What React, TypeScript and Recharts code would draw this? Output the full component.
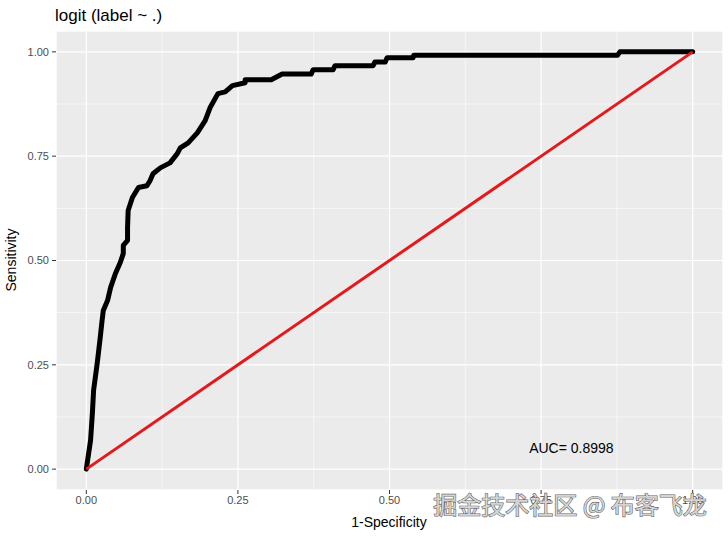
import React from 'react';
import { LineChart, Line, XAxis, YAxis, CartesianGrid, ReferenceDot } from 'recharts';

// ROC curve points
const fpr = [0, 0.007, 0.01, 0.012, 0.018, 0.023, 0.026, 0.028, 0.035, 0.04, 0.048, 0.056, 0.061, 0.061, 0.068, 0.068, 0.069, 0.076, 0.086, 0.1, 0.105, 0.11, 0.122, 0.138, 0.15, 0.155, 0.168, 0.183, 0.196, 0.204, 0.217, 0.229, 0.241, 0.262, 0.262, 0.305, 0.323, 0.371, 0.374, 0.407, 0.41, 0.473, 0.476, 0.493, 0.496, 0.539, 0.54, 0.876, 0.88, 1];
const tpr = [0, 0.069, 0.134, 0.189, 0.254, 0.316, 0.356, 0.38, 0.404, 0.435, 0.469, 0.495, 0.517, 0.536, 0.548, 0.579, 0.62, 0.651, 0.675, 0.679, 0.691, 0.708, 0.722, 0.734, 0.756, 0.77, 0.782, 0.806, 0.835, 0.866, 0.9, 0.904, 0.919, 0.926, 0.933, 0.933, 0.947, 0.947, 0.957, 0.957, 0.967, 0.967, 0.976, 0.976, 0.986, 0.986, 0.992, 0.992, 1, 1];
const diagX = [0, 1];
const diagY = [0, 1];

const majorTicks = [0, 0.25, 0.5, 0.75, 1];
const minorTicks = [0.125, 0.375, 0.625, 0.875];
const tickLabels = ['0.00', '0.25', '0.50', '0.75', '1.00'];

const aucX = 0.8;
const aucY = 0.05;
const aucText = 'AUC= 0.8998';

const roc = fpr.map((x, i) => ({ fpr: x, tpr: tpr[i] }));
const diag = diagX.map((x, i) => ({ fpr: x, tpr: diagY[i] }));

const font = '"Liberation Sans", Arial, sans-serif';
const dom: [number, number] = [-0.05, 1.05];
const fmt = (v: number) => tickLabels[majorTicks.indexOf(v)] ?? String(v);

export default function App() {
  return (
    <div style={{ position: 'absolute', left: 0, top: 0, width: 728, height: 536, background: '#fff', fontFamily: font }}>
      <LineChart width={728} height={536} margin={{ top: 31, right: 5, bottom: 16, left: 0 }}>
        <XAxis xAxisId="minor" type="number" dataKey="fpr" domain={dom} ticks={minorTicks} allowDataOverflow hide />
        <YAxis yAxisId="minor" type="number" dataKey="tpr" domain={dom} ticks={minorTicks} allowDataOverflow hide />
        <CartesianGrid xAxisId="minor" yAxisId="minor" fill="#EBEBEB" stroke="#fff" strokeWidth={0.6} />
        <CartesianGrid stroke="#fff" strokeWidth={1.2} />
        <XAxis
          type="number"
          dataKey="fpr"
          domain={dom}
          ticks={majorTicks}
          allowDataOverflow
          height={30}
          axisLine={false}
          tickSize={4}
          tickMargin={2}
          tickLine={{ stroke: '#333', strokeWidth: 1 }}
          tick={{ fill: '#4D4D4D', fontSize: 11, fontFamily: font }}
          tickFormatter={fmt}
        />
        <YAxis
          type="number"
          dataKey="tpr"
          domain={dom}
          ticks={majorTicks}
          allowDataOverflow
          width={56}
          axisLine={false}
          tickSize={4}
          tickMargin={3}
          tickLine={{ stroke: '#333', strokeWidth: 1 }}
          tick={{ fill: '#4D4D4D', fontSize: 11, fontFamily: font }}
          tickFormatter={fmt}
        />
        <Line data={roc} dataKey="tpr" type="linear" stroke="#000" strokeWidth={5} strokeLinejoin="round" strokeLinecap="round" dot={false} isAnimationActive={false} />
        <Line data={diag} dataKey="tpr" type="linear" stroke="#e3191c" strokeWidth={3} dot={false} isAnimationActive={false} />
        <ReferenceDot
          x={aucX}
          y={aucY}
          r={0}
          stroke="none"
          fill="none"
          label={{ value: aucText, position: 'center', fill: '#000', fontSize: 14, fontFamily: font }}
        />
      </LineChart>
      <svg width={728} height={536} style={{ position: 'absolute', left: 0, top: 0, pointerEvents: 'none' }}>
        <text x={55} y={21} fontSize={17} fill="#000" fontFamily={font}>logit (label ~ .)</text>
        <text x={389} y={527} fontSize={14} fill="#000" textAnchor="middle" fontFamily={font}>1-Specificity</text>
        <text x={0} y={0} fontSize={14} fill="#000" textAnchor="middle" fontFamily={font} transform="translate(16,260) rotate(-90)">Sensitivity</text>
        <text
          x={570}
          y={514}
          fontSize={24}
          fill="#d4d4d4"
          stroke="#666"
          strokeWidth={1.2}
          paintOrder="stroke"
          textAnchor="middle"
          fontFamily='"Noto Sans CJK SC", sans-serif'
        >
          掘金技术社区 @ 布客飞龙
        </text>
      </svg>
    </div>
  );
}
